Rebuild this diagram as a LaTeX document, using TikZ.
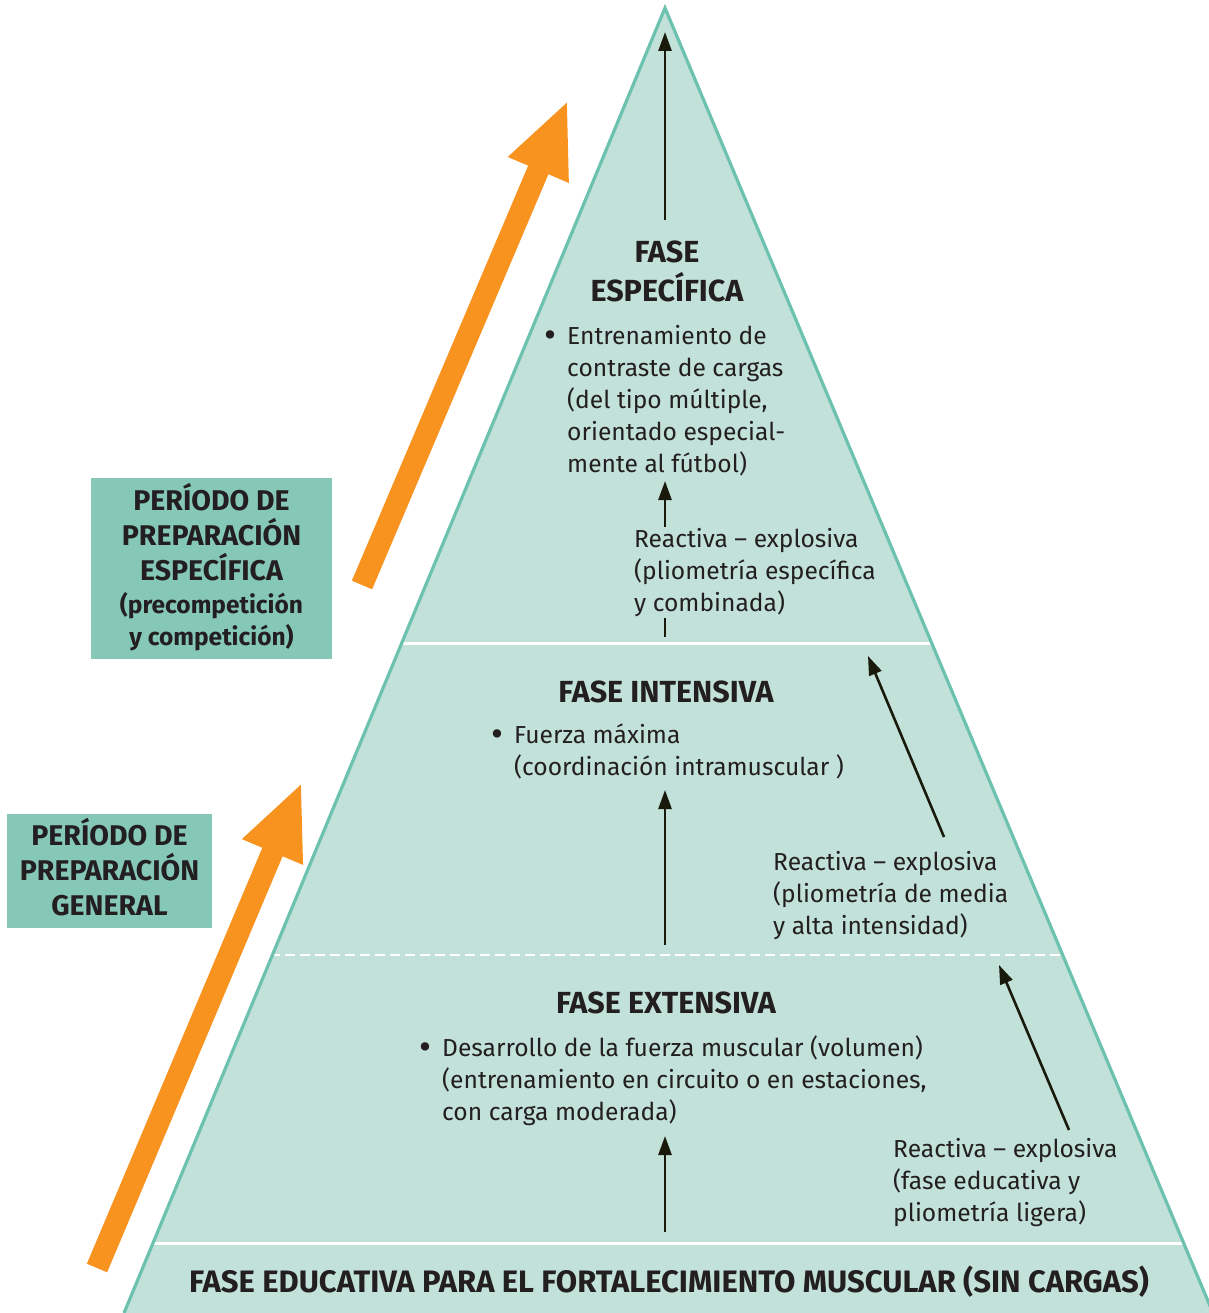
\documentclass[tikz,border=0pt]{standalone}
\usepackage{fontspec}
\setmainfont{Fira Sans}
\usetikzlibrary{arrows.meta}
\definecolor{pyrfill}{HTML}{C2E1D9}
\definecolor{pyredge}{HTML}{6CC2AE}
\definecolor{boxfill}{HTML}{86C8B8}
\definecolor{orangearr}{HTML}{F7931E}
\definecolor{txt}{HTML}{231F20}
\definecolor{arr}{HTML}{1A1A0C}
\newcommand\bodysize{\fontsize{24.6}{32}\selectfont}
\newcommand\headsize{\bfseries\fontsize{30.5}{38.5}\selectfont}
\newcommand\boxsize{\bfseries\fontsize{28.5}{35}\selectfont}
\newcommand\boxsmall{\bfseries\fontsize{24.5}{32}\selectfont}
\newcommand\bul{\llap{\raisebox{-3pt}{\scalebox{1.5}{•}}\hspace{11pt}}}
\newcommand\headstrut{\rule{0pt}{27pt}}
\begin{document}
\begin{tikzpicture}[x=1pt,y=-1pt,
  bodytext/.style={font=\bodysize, align=left, anchor=north west, inner sep=0pt, text=txt},
  headtext/.style={font=\headsize, align=center, anchor=north, inner sep=0pt, text=txt},
  periodbox/.style={fill=boxfill, inner sep=0pt},
  periodtext/.style={align=center, text=txt, font=\boxsize, inner sep=0pt},
  blkarrow/.style={draw=arr, line width=2.6pt, -{Triangle[length=19pt,width=13pt]}},
  bigarrow/.style={draw=orangearr, line width=22pt, -{Triangle[length=76pt,width=60pt]}}
]
\useasboundingbox (0,0) rectangle (1208,1313);
% pyramid
\coordinate (apex) at (665,8);
\coordinate (bl) at (124,1313);
\coordinate (br) at (1213,1313);
\fill[pyrfill] (apex) -- (bl) -- (br) -- cycle;
\begin{scope}
  \clip (apex) -- (bl) -- (br) -- cycle;
  \draw[white, line width=3pt] (0,643) -- (1208,643);
  \draw[white, line width=2.8pt, dash pattern=on 10pt off 5pt] (0,955) -- (1208,955);
  \draw[white, line width=3pt] (0,1243) -- (1208,1243);
\end{scope}
\draw[pyredge, line width=3.2pt, line join=miter] (bl) -- (apex) -- (br);

% orange arrows
\coordinate (o1s) at (362,585); \coordinate (o1e) at (568,100);
\coordinate (o2s) at (97,1268); \coordinate (o2e) at (302,782);
\draw[bigarrow] (o1s) -- (o1e);
\draw[bigarrow] (o2s) -- (o2e);

% period boxes
\node[periodbox, minimum width=241pt, minimum height=181pt] (pesp) at (211.5,568.5) {};
\node[periodtext] (pesptext) at (211.5,567)
  {PERÍODO DE\\PREPARACIÓN\\ESPECÍFICA\\[-2pt]\boxsmall (precompetición\\[-3pt]\boxsmall y competición)};
\node[periodbox, minimum width=205pt, minimum height=114pt] (pgen) at (109.5,871) {};
\node[periodtext] (pgentext) at (109.5,867) {PERÍODO DE\\PREPARACIÓN\\GENERAL};

% texts
\node[headtext] (hesp) at (667,235.5) {\headstrut FASE\\ESPECÍFICA};
\node[bodytext] (besp) at (567,321.6) {\strut\bul Entrenamiento de\\contraste de cargas\\(del tipo múltiple,\\orientado especial-\\mente al fútbol)};
\node[bodytext] (resp) at (634,524.6) {\strut Reactiva – explosiva\\(pliometría específica\\y combinada)};
\node[headtext] (hint) at (666,675.5) {\headstrut FASE INTENSIVA};
\node[bodytext] (bint) at (514,720.6) {\strut\bul Fuerza máxima\\(coordinación intramuscular )};
\node[bodytext] (rint) at (773,847.6) {\strut Reactiva – explosiva\\(pliometría de media\\y alta intensidad)};
\node[headtext] (hext) at (666,986.5) {\headstrut FASE EXTENSIVA};
\node[bodytext] (bext) at (442,1033.6) {\strut\bul Desarrollo de la fuerza muscular (volumen)\\(entrenamiento en circuito o en estaciones,\\con carga moderada)};
\node[bodytext] (rext) at (893,1134.6) {\strut Reactiva – explosiva\\(fase educativa y\\pliometría ligera)};
\node[headtext, font=\bfseries\fontsize{31}{38.5}\selectfont] (hedu) at (669,1265.5) {\headstrut FASE EDUCATIVA PARA EL FORTALECIMIENTO MUSCULAR (SIN CARGAS)};

% black arrows
\coordinate (a1s) at (665,220); \coordinate (a1e) at (665,32);
\coordinate (a2s) at (665,527); \coordinate (a2e) at (665,481);
\coordinate (s1s) at (665,618); \coordinate (s1e) at (665,637);
\coordinate (a3s) at (665,945); \coordinate (a3e) at (665,790);
\coordinate (a4s) at (665,1232); \coordinate (a4e) at (665,1136);
\coordinate (d1s) at (944,837); \coordinate (d1e) at (868,656);
\coordinate (d2s) at (1069,1130); \coordinate (d2e) at (999,965);
\draw[blkarrow] (a1s) -- (a1e);
\draw[blkarrow] (a2s) -- (a2e);
\draw[draw=arr, line width=2.6pt] (s1s) -- (s1e);
\draw[blkarrow] (a3s) -- (a3e);
\draw[blkarrow] (a4s) -- (a4e);
\draw[blkarrow] (d1s) -- (d1e);
\draw[blkarrow] (d2s) -- (d2e);
\end{tikzpicture}
\end{document}
